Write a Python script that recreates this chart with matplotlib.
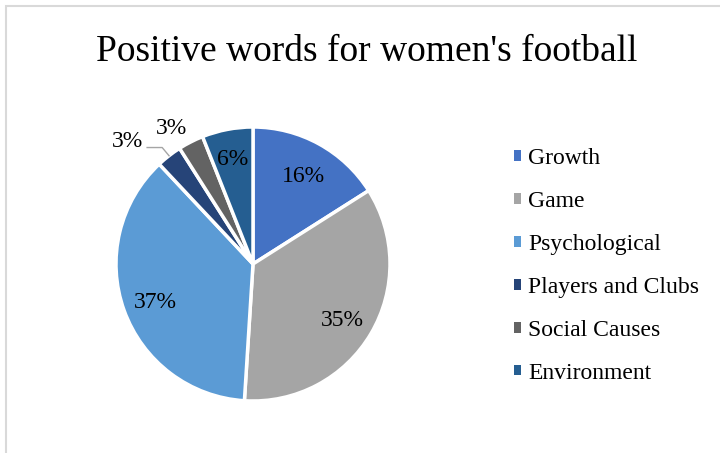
import numpy as np
import matplotlib.pyplot as plt
from matplotlib.patches import Rectangle

# Share of positive words by category
categories = ['Growth', 'Game', 'Psychological', 'Players and Clubs', 'Social Causes', 'Environment']
shares = [16, 35, 37, 3, 3, 6]
colors = ['#4472C4', '#A5A5A5', '#5B9BD5', '#264478', '#636363', '#255E91']

plt.rcParams['font.family'] = ['Liberation Serif', 'DejaVu Serif']

fig = plt.figure(figsize=(7.2, 4.53), dpi=100)

# light chart-area border (left and top edges visible)
fig.patches.append(Rectangle((6.5 / 720, -0.1), 2.0, 1.1 - 6.0 / 453, transform=fig.transFigure,
                             fill=False, edgecolor='#D9D9D9', linewidth=1.5))

fig.text(367 / 720, 1 - 52 / 453, "Positive words for women's football",
         ha='center', va='center', fontsize=27)

ax = fig.add_axes([116 / 720, 52 / 453, 274 / 720, 274 / 453])
wedges, _ = ax.pie(shares, colors=colors, startangle=90, counterclock=False,
                   wedgeprops=dict(edgecolor='white', linewidth=2.5))
ax.set_xlim(-1, 1)
ax.set_ylim(-1, 1)
ax.set_aspect('equal')
ax.axis('off')

def mid(w):
    return np.deg2rad((w.theta1 + w.theta2) / 2)

fs = 17
for w, v in zip(wedges, shares):
    a = mid(w)
    if v >= 5:
        r = 0.76 if v > 10 else 0.80
        ax.text(r * np.cos(a), r * np.sin(a) - 0.025, f'{v}%', ha='center', va='center', fontsize=fs)

# small slices get outside labels
a = mid(wedges[3])
ex, ey = np.cos(a), np.sin(a)
ax.plot([ex, ex - 0.05, ex - 0.16], [ey, ey + 0.06, ey + 0.06], color='#A5A5A5', lw=1, clip_on=False)
ax.text(ex - 0.19, ey + 0.105, f'{shares[3]}%', ha='right', va='center', fontsize=fs)

a = mid(wedges[4])
ax.text(1.13 * np.cos(a) - 0.08, 1.13 * np.sin(a) - 0.02, f'{shares[4]}%', ha='center', va='center', fontsize=fs)

handles = [Rectangle((0, 0), 1, 1, facecolor=c) for c in colors]
fig.legend(handles, categories, loc='upper left', bbox_to_anchor=(514 / 720, 1 - 148 / 453),
           frameon=False, fontsize=17, handlelength=0.3, handleheight=0.3,
           handletextpad=0.3, labelspacing=0.93, borderpad=0, borderaxespad=0)

plt.savefig('out.png', dpi=100)
